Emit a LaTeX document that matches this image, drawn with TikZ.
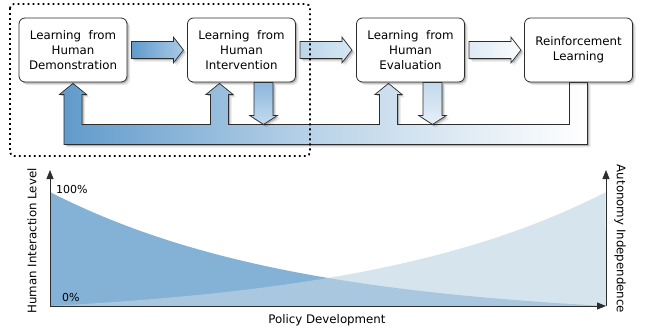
\documentclass[tikz,border=0pt]{standalone}
\usepackage{fontspec}
\setmainfont{DejaVu Sans}
\usetikzlibrary{calc,shadows,arrows.meta,backgrounds}
\definecolor{bandblue}{RGB}{96,154,203}
\definecolor{hl1}{RGB}{96,154,203}  \definecolor{hr1}{RGB}{170,203,230}
\definecolor{hl2}{RGB}{186,212,234} \definecolor{hr2}{RGB}{215,231,243}
\definecolor{hl3}{RGB}{222,234,244} \definecolor{hr3}{RGB}{250,252,254}
\definecolor{dt2}{RGB}{138,182,220} \definecolor{db2}{RGB}{196,220,239}
\definecolor{dt3}{RGB}{194,217,236} \definecolor{db3}{RGB}{231,239,247}
\definecolor{humanfill}{RGB}{132,178,215}
\definecolor{autofill}{RGB}{191,213,228}
\definecolor{edge}{RGB}{45,45,45}
\begin{document}
\begin{tikzpicture}[x=1pt,y=-1pt,font=\fontsize{11.8}{15}\selectfont,
    soft/.style={drop shadow={shadow xshift=1.5pt,shadow yshift=-1.5pt,opacity=.22,fill=black},
                 drop shadow={shadow xshift=3pt,shadow yshift=-3pt,opacity=.1,fill=black}},
    stage/.style={draw=edge,line width=.8pt,rounded corners=6pt,fill=white,soft,
                  minimum width=108pt,minimum height=64pt,align=center,inner sep=0pt},
    blk/.style={draw=edge,line width=.7pt,soft},
    axis/.style={draw=edge,line width=.9pt,-{Triangle[length=9pt,width=7pt]}},
    pct/.style={anchor=west,inner sep=0pt,font=\fontsize{11}{13}\selectfont}]
    \useasboundingbox (0,0) rectangle (648,335);

    \foreach \n/\x/\t in {demo/73/{Learning\ \ from\\Human\\Demonstration},
                          interv/241.5/{Learning\ \ from\\Human\\Intervention},
                          eval/410.5/{Learning\ \ from\\Human\\Evaluation},
                          rl/578.5/{Reinforcement\\Learning}}
        \node[stage] (\n) at (\x,50) {\t};

    % feedback band
    \begin{scope}[on background layer]
        \coordinate (u1) at ($(demo.south)+(0,1)$);
        \coordinate (u2) at ($(interv.south)+(-22,1)$);
        \coordinate (u3) at ($(eval.south)+(-22,1)$);
        \draw[blk,left color=bandblue,right color=white,middle color=bandblue!42!white]
            ($(rl.south)+(9,0)$) |- ($(u1)+(-9,61)$) -- ++(0,-50) -- ++(-4.5,0) -- (u1) -- ++(13.5,11) -- ++(-4.5,0)
            |- ($(u2)+(-9,41)$) -- ++(0,-30) -- ++(-4.5,0) -- (u2) -- ++(13.5,11) -- ++(-4.5,0)
            |- ($(u3)+(-9,41)$) -- ++(0,-30) -- ++(-4.5,0) -- (u3) -- ++(13.5,11) -- ++(-4.5,0)
            |- ($(rl.south)+(-9,42)$) -- ($(rl.south)+(-9,0)$) -- cycle;
    \end{scope}

    \foreach \a/\b/\c in {demo/interv/1,interv/eval/2,eval/rl/3}
        \draw[blk,left color=hl\c,right color=hr\c] ($(\a.east)+(4,-8.5)$) -- ++(42,0) -- ++(0,-4.5)
            -- ++(10,13) -- ++(-10,13) -- ++(0,-4.5) -- ++(-42,0) -- cycle;
    \foreach \n/\c in {interv/2,eval/3}
        \draw[blk,top color=dt\c,bottom color=db\c] ($(\n.south)+(12.5,0)$) -- ++(0,33) -- ++(-4.5,0)
            -- ++(14,9) -- ++(14,-9) -- ++(-4.5,0) -- ++(0,-33) -- cycle;

    \draw[line width=1.8pt,dash pattern=on 1.8pt off 3.2pt,rounded corners=4pt] (10,4) rectangle (310,156);

    % lower chart
    \coordinate (O) at (50,306);
    \coordinate (yA) at (50,170);
    \coordinate (xE) at (606,306);
    \coordinate (yB) at (606,170);
    \fill[humanfill] (O) -- plot[domain=0:1,samples=80] ({50+556*\x},{306-114*(exp(-2.24*\x)-0.1065)/0.8935}) -- cycle;
    \fill[autofill,opacity=.64] (O) -- plot[domain=0:1,samples=80] ({50+556*\x},{306-114*(exp(-2.24*(1-\x))-0.1065)/0.8935}) -- (xE) -- cycle;
    \draw[axis] (O) -- (yA);
    \draw[axis] (O) -- (xE);
    \draw[axis] (xE) -- (yB);

    \node[pct] (p100) at (56,189) {100\%};
    \node[pct] (p0) at (62,297) {0\%};
    \node[rotate=90] (hil) at (32,241) {Human Interaction Level};
    \node[rotate=-90] (ai) at (620,239) {Autonomy Independence};
    \node (pd) at (327,320) {Policy Development};
\end{tikzpicture}
\end{document}
